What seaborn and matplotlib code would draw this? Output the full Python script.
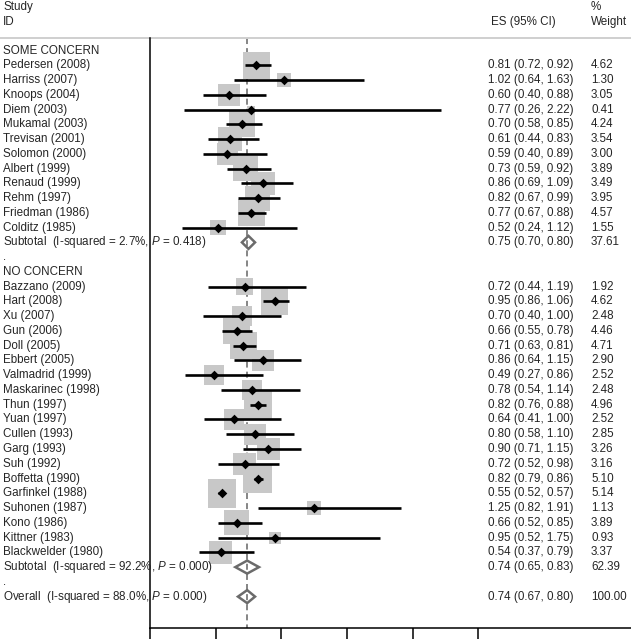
import numpy as np
import pandas as pd
import matplotlib
matplotlib.use("Agg")
import matplotlib.pyplot as plt
import seaborn as sns

# Estudios con "some concern"
some_names = ["Pedersen (2008)", "Harriss (2007)", "Knoops (2004)", "Diem (2003)",
              "Mukamal (2003)", "Trevisan (2001)", "Solomon (2000)", "Albert (1999)",
              "Renaud (1999)", "Rehm (1997)", "Friedman (1986)", "Colditz (1985)"]
some_es = [0.81, 1.02, 0.60, 0.77, 0.70, 0.61, 0.59, 0.73, 0.86, 0.82, 0.77, 0.52]
some_lo = [0.72, 0.64, 0.40, 0.26, 0.58, 0.44, 0.40, 0.59, 0.69, 0.67, 0.67, 0.24]
some_hi = [0.92, 1.63, 0.88, 2.22, 0.85, 0.83, 0.89, 0.92, 1.09, 0.99, 0.88, 1.12]
some_wt = [4.62, 1.30, 3.05, 0.41, 4.24, 3.54, 3.00, 3.89, 3.49, 3.95, 4.57, 1.55]

# Estudios con "no concern"
no_names = ["Bazzano (2009)", "Hart (2008)", "Xu (2007)", "Gun (2006)", "Doll (2005)",
            "Ebbert (2005)", "Valmadrid (1999)", "Maskarinec (1998)", "Thun (1997)",
            "Yuan (1997)", "Cullen (1993)", "Garg (1993)", "Suh (1992)", "Boffetta (1990)",
            "Garfinkel (1988)", "Suhonen (1987)", "Kono (1986)", "Kittner (1983)",
            "Blackwelder (1980)"]
no_es = [0.72, 0.95, 0.70, 0.66, 0.71, 0.86, 0.49, 0.78, 0.82, 0.64, 0.80, 0.90, 0.72,
         0.82, 0.55, 1.25, 0.66, 0.95, 0.54]
no_lo = [0.44, 0.86, 0.40, 0.55, 0.63, 0.64, 0.27, 0.54, 0.76, 0.41, 0.58, 0.71, 0.52,
         0.79, 0.52, 0.82, 0.52, 0.52, 0.37]
no_hi = [1.19, 1.06, 1.00, 0.78, 0.81, 1.15, 0.86, 1.14, 0.88, 1.00, 1.10, 1.15, 0.98,
         0.86, 0.57, 1.91, 0.85, 1.75, 0.79]
no_wt = [1.92, 4.62, 2.48, 4.46, 4.71, 2.90, 2.52, 2.48, 4.96, 2.52, 2.85, 3.26, 3.16,
         5.10, 5.14, 1.13, 3.89, 0.93, 3.37]

# Subtotales y global: ES, lo, hi, peso, I-squared, P
sub_some = [0.75, 0.70, 0.80, 37.61, "2.7%", "0.418"]
sub_no = [0.74, 0.65, 0.83, 62.39, "92.2%", "0.000"]
overall = [0.74, 0.67, 0.80, 100.00, "88.0%", "0.000"]

x_ticks = [0, 0.5, 1, 1.5, 2, 2.5]

# Construir tabla de filas
rows = []
rows.append(dict(kind="group", label="SOME CONCERN"))
for n, e, l, h, w in zip(some_names, some_es, some_lo, some_hi, some_wt):
    rows.append(dict(kind="study", label=n, es=e, lo=l, hi=h, wt=w))
rows.append(dict(kind="sub", label="Subtotal", es=sub_some[0], lo=sub_some[1], hi=sub_some[2],
                 wt=sub_some[3], i2=sub_some[4], p=sub_some[5]))
rows.append(dict(kind="dot", label="."))
rows.append(dict(kind="group", label="NO CONCERN"))
for n, e, l, h, w in zip(no_names, no_es, no_lo, no_hi, no_wt):
    rows.append(dict(kind="study", label=n, es=e, lo=l, hi=h, wt=w))
rows.append(dict(kind="sub", label="Subtotal", es=sub_no[0], lo=sub_no[1], hi=sub_no[2],
                 wt=sub_no[3], i2=sub_no[4], p=sub_no[5]))
rows.append(dict(kind="dot", label="."))
rows.append(dict(kind="sub", label="Overall", es=overall[0], lo=overall[1], hi=overall[2],
                 wt=overall[3], i2=overall[4], p=overall[5]))
df = pd.DataFrame(rows)
df["row"] = np.arange(len(df))

sns.set_style("white")
plt.rcParams["font.family"] = ["Liberation Sans", "DejaVu Sans"]
plt.rcParams["mathtext.fontset"] = "custom"
plt.rcParams["mathtext.it"] = "Liberation Sans:italic"
plt.rcParams["mathtext.rm"] = "Liberation Sans"

W, H = 631, 639
px_unit = 131.3      # pixeles por unidad de ES
x0_px = 150          # pixel de ES = 0
row0_px, row_px = 50.5, 14.76
axis_px = 627.5

fig = plt.figure(figsize=(W / 100, H / 100), dpi=100)
ax = fig.add_axes([0, (H - axis_px) / H, 1, axis_px / H])
xmin, xmax = -x0_px / px_unit, (W - x0_px) / px_unit
ytop, ybot = -row0_px / row_px, (axis_px - row0_px) / row_px
ax.set_xlim(xmin, xmax)
ax.set_ylim(ybot, ytop)
top_line = (38 - row0_px) / row_px

studies = df[df.kind == "study"]
fs = 8.4

# linea discontinua en el efecto global
ax.vlines(overall[0], top_line, ybot, color="#858585", lw=1.4, linestyles=(0, (3.1, 2.1)), zorder=1)

# cajas proporcionales al peso
side_pt = 12.6 * np.sqrt(studies.wt) * 0.72
sns.scatterplot(x=studies.es, y=studies.row, marker="s", s=side_pt ** 2, color="#c8c8c8",
                linewidth=0, ax=ax, zorder=2, legend=False)
ax.hlines(studies.row, studies.lo, studies.hi, color="black", lw=1.9, zorder=3)
sns.scatterplot(x=studies.es, y=studies.row, marker="D", s=24, color="black",
                linewidth=0, ax=ax, zorder=4, legend=False)

# diamantes de subtotal y global
hh = 6.5 / row_px
for _, r in df[df.kind == "sub"].iterrows():
    ax.fill([r.lo, r.es, r.hi, r.es], [r.row, r.row - hh, r.row, r.row + hh],
            facecolor="none", edgecolor="#6b6b6b", lw=1.8, zorder=5, joinstyle="miter")

# textos
lab_x = (3 - x0_px) / px_unit
es_x = (488 - x0_px) / px_unit
wt_x = (591 - x0_px) / px_unit
for _, r in df.iterrows():
    if r.kind == "sub":
        txt = r.label + "  (I-squared = " + r.i2 + ", $\\mathit{P}$ = " + r.p + ")"
    else:
        txt = r.label
    ax.text(lab_x, r.row, txt, fontsize=fs, va="center", ha="left", zorder=6)
    if r.kind in ("study", "sub"):
        ax.text(es_x, r.row, f"{r.es:.2f} ({r.lo:.2f}, {r.hi:.2f})", fontsize=fs, va="center")
        ax.text(wt_x, r.row, f"{r.wt:.2f}", fontsize=fs, va="center")

ax.text(lab_x, (7 - row0_px) / row_px, "Study", fontsize=fs, va="center")
ax.text(lab_x, (22 - row0_px) / row_px, "ID", fontsize=fs, va="center")
ax.text((491 - x0_px) / px_unit, (22 - row0_px) / row_px, "ES (95% CI)", fontsize=fs, va="center")
ax.text(wt_x, (7 - row0_px) / row_px, "%", fontsize=fs, va="center")
ax.text(wt_x, (22 - row0_px) / row_px, "Weight", fontsize=fs, va="center")

# linea gris superior
ax.axhline(top_line, color="#cfcfcf", lw=1.4, zorder=1)

# ejes
ax.set_xlabel("")
ax.set_ylabel("")
ax.set_yticks([])
ax.set_xticks(x_ticks)
ax.set_xticklabels([])
ax.tick_params(axis="x", direction="out", length=8.5, width=1.1, color="black", bottom=True)
for s in ["top", "right"]:
    ax.spines[s].set_visible(False)
ax.spines["bottom"].set_bounds(0, xmax)
ax.spines["bottom"].set_linewidth(1.1)
ax.spines["bottom"].set_color("black")
ax.spines["left"].set_position(("data", 0))
ax.spines["left"].set_bounds(top_line, ybot)
ax.spines["left"].set_linewidth(1.1)
ax.spines["left"].set_color("black")
ax.set_facecolor("white")

fig.savefig("out.png", dpi=100)
